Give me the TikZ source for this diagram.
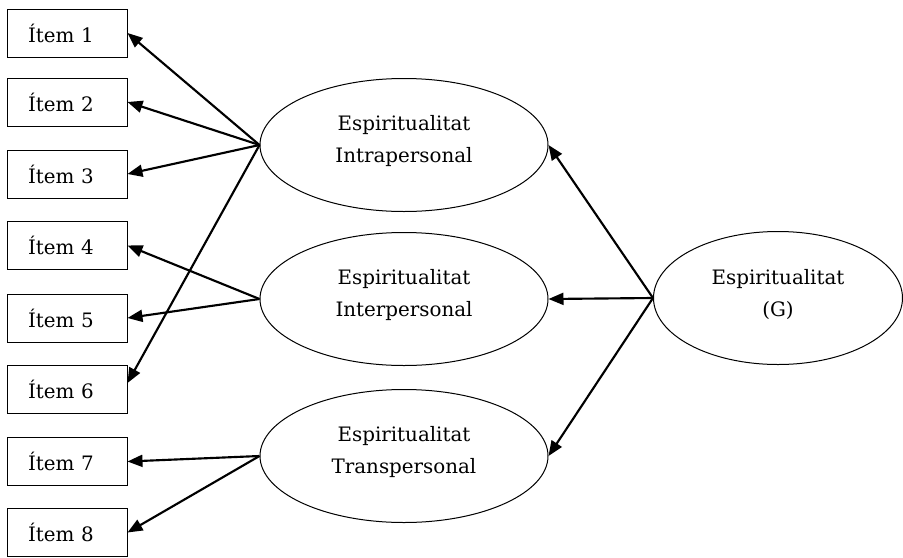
\documentclass[tikz,border=0pt]{standalone}
\usepackage{fontspec}
\setmainfont{DejaVu Serif}
\usetikzlibrary{arrows.meta,shapes.geometric}
\begin{document}
\begin{tikzpicture}[x=0.75pt,y=-0.75pt,
  font=\fontsize{14.9pt}{24pt}\selectfont,
  itembox/.style={draw,line width=0.75pt,minimum width=90pt,minimum height=36pt,
    inner xsep=15.75pt,inner ysep=0pt,text width=58.5pt,align=left},
  factor/.style={draw,ellipse,line width=0.75pt,minimum width=216pt,minimum height=99.75pt,
    inner sep=0pt},
  general/.style={factor,minimum width=186.75pt},
  caption/.style={align=center,yshift=3pt,inner sep=0pt},
  load/.style={line width=1.6pt,-{Triangle[length=11.25pt,width=9pt]}}]
\useasboundingbox (0,0) rectangle (903,557);

% observed items
\node[itembox] (i1) at (67,33)    {Ítem 1};
\node[itembox] (i2) at (67,102)   {Ítem 2};
\node[itembox] (i3) at (67,174)   {Ítem 3};
\node[itembox] (i4) at (67,245.5) {Ítem 4};
\node[itembox] (i5) at (67,318)   {Ítem 5};
\node[itembox] (i6) at (67,389)   {Ítem 6};
\node[itembox] (i7) at (67,461.5) {Ítem 7};
\node[itembox] (i8) at (67,532.5) {Ítem 8};

% latent factors, captions set slightly above centre
\node[factor, label={[caption]center:Espiritualitat\\Intrapersonal}] (intra) at (404,145) {};
\node[factor, label={[caption]center:Espiritualitat\\Interpersonal}] (inter) at (404,299) {};
\node[factor, label={[caption]center:Espiritualitat\\Transpersonal}] (trans) at (404,456) {};
\node[general, label={[caption]center:Espiritualitat\\(G)}] (g) at (778,298) {};

% loadings of the items
\draw[load] (intra.west) -- (i1.east);
\draw[load] (intra.west) -- (i2.east);
\draw[load] (intra.west) -- (i3.east);
\draw[load] (intra.west) -- ([yshift=4.5pt]i6.east);
\draw[load] (inter.west) -- (i4.east);
\draw[load] (inter.west) -- (i5.east);
\draw[load] (trans.west) -- (i7.east);
\draw[load] (trans.west) -- (i8.east);

% second-order loadings
\draw[load] (g.west) -- (intra.east);
\draw[load] (g.west) -- (inter.east);
\draw[load] (g.west) -- (trans.east);
\end{tikzpicture}
\end{document}
